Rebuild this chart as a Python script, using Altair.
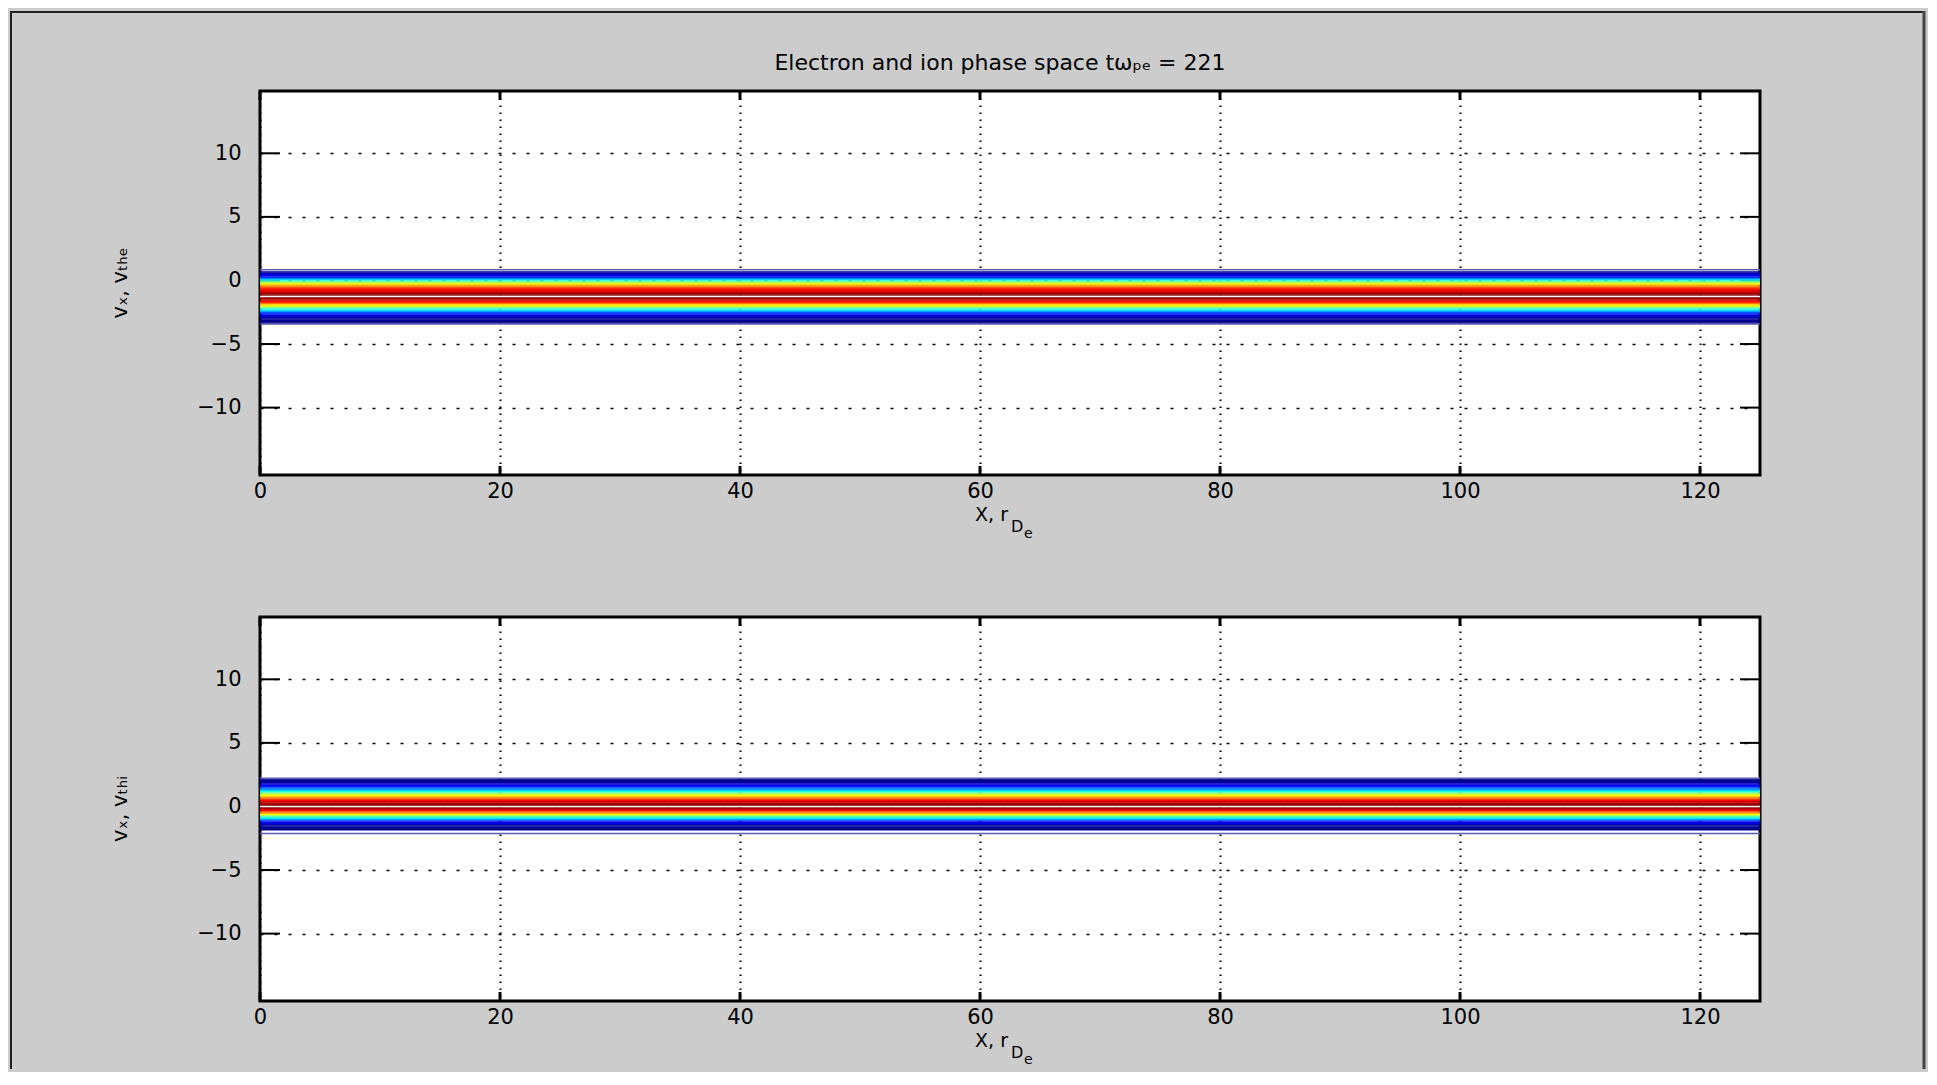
import altair as alt
import pandas as pd

# ---------------- data ----------------
X_RANGE = [0, 125]
V_RANGE = [-15.3, 14.9]
X_TICKS = [0, 20, 40, 60, 80, 100, 120]
V_TICKS = [-10, -5, 0, 5, 10]
ROW_DV = 0.1

# electron distribution rows (velocity row centres, normalised f)
e_v = [0.65, 0.55, 0.45, 0.35, 0.25, 0.15, 0.05, -0.05, -0.15, -0.25,
       -0.35, -0.45, -0.55, -0.65, -0.75, -0.85, -0.95, -1.05, -1.15, -1.25,
       -1.35, -1.45, -1.55, -1.65, -1.75, -1.85, -1.95, -2.05, -2.15, -2.25,
       -2.35, -2.45, -2.55, -2.65, -2.75, -2.85, -2.95, -3.05, -3.15, -3.25,
       -3.35]
e_f = [0.02, 0.05, 0.08, 0.11, 0.16, 0.24, 0.33, 0.42, 0.51, 0.60,
       0.67, 0.73, 0.78, 0.83, 0.87, 0.91, 0.94, 0.97, 0.99, 1.00,
       0.99, 0.97, 0.94, 0.89, 0.83, 0.76, 0.66, 0.58, 0.50, 0.43,
       0.36, 0.28, 0.21, 0.15, 0.10, 0.07, 0.05, 0.03, 0.02, 0.01,
       0.00]
e_contour_v = [0.84, -3.43]
e_peak_v = [-1.26]

# ion distribution rows
i_v = [2.15, 2.05, 1.95, 1.85, 1.75, 1.65, 1.55, 1.45, 1.35, 1.25,
       1.15, 1.05, 0.95, 0.85, 0.75, 0.65, 0.55, 0.45, 0.35, 0.25,
       0.15, 0.05, -0.05, -0.15, -0.25, -0.35, -0.45, -0.55, -0.65, -0.75,
       -0.85, -0.95, -1.05, -1.15, -1.25, -1.35, -1.45, -1.55, -1.65, -1.75,
       -1.85]
i_f = [0.00, 0.01, 0.02, 0.04, 0.06, 0.10, 0.15, 0.20, 0.26, 0.33,
       0.41, 0.48, 0.55, 0.62, 0.69, 0.75, 0.81, 0.87, 0.92, 0.95,
       0.98, 1.00, 1.00, 0.97, 0.93, 0.87, 0.80, 0.72, 0.63, 0.54,
       0.44, 0.35, 0.27, 0.19, 0.12, 0.08, 0.05, 0.03, 0.02, 0.01,
       0.00]
i_contour_v = [2.22, -2.12]
i_peak_v = [0.0]

TITLE = "Electron and ion phase space tωₚₑ = 221"
E_YLABEL = "vₓ, vₜₕₑ"
I_YLABEL = "vₓ, vₜₕᵢ"
XLABEL_MAIN, XLABEL_SUB, XLABEL_SUBSUB = "X, r", "D", "e"

JET_STOPS = [0, 0.125, 0.375, 0.625, 0.875, 1]
JET_COLORS = ["#000080", "#0000ff", "#00ffff", "#ffff00", "#ff0000", "#800000"]

# ---------------- styling / layout ----------------
W, H = 1500, 384
FONT = "DejaVu Sans"
GAP = 142

xs = alt.Scale(domain=X_RANGE, nice=False, zero=False)
ys = alt.Scale(domain=V_RANGE, nice=False, zero=False)

X_AXIS = alt.Axis(
    values=X_TICKS, title=None, grid=True, ticks=False, domain=False,
    labelFontSize=21, labelPadding=5, labelFlush=False, labelOverlap=False,
    labelAngle=0, gridDash=[1.5, 5.5], gridWidth=2, gridColor="black")
Y_AXIS = alt.Axis(
    values=V_TICKS, title=None, grid=True, ticks=False, domain=False,
    labelFontSize=21, labelPadding=19, labelFlush=False, labelOverlap=False,
    gridDash=[3, 11], gridWidth=1.5, gridColor="black")


def text_layer(txt, x, y, size, align="left", angle=0, baseline="alphabetic"):
    return alt.Chart(pd.DataFrame({"t": [txt]})).mark_text(
        font=FONT, fontSize=size, align=align, baseline=baseline,
        angle=angle, color="black"
    ).encode(text="t:N", x=alt.value(x), y=alt.value(y))


def rule_px(**enc):
    color = enc.pop("color")
    sw = enc.pop("sw")
    return alt.Chart(pd.DataFrame({"a": [0]})).mark_rule(
        color=color, strokeWidth=sw
    ).encode(**{k: alt.value(v) for k, v in enc.items()})


def panel(v, f, contours, peak, ylabel, upper):
    band = pd.DataFrame({
        "x0": X_RANGE[0],
        "x1": X_RANGE[1],
        "v_top": [a + ROW_DV / 2 + 0.02 for a in v],
        "v_bot": [a - ROW_DV / 2 for a in v],
        "f": f,
    })
    xt = pd.DataFrame({"x": X_TICKS})
    vt = pd.DataFrame({"v": V_TICKS})

    ticks_top = alt.Chart(xt).mark_rule(color="black", strokeWidth=3).encode(
        x=alt.X("x:Q", scale=xs, axis=X_AXIS), y=alt.value(0), y2=alt.value(9))
    ticks_bot = alt.Chart(xt).mark_rule(color="black", strokeWidth=3).encode(
        x=alt.X("x:Q", scale=xs, axis=X_AXIS), y=alt.value(H - 9), y2=alt.value(H))
    ticks_left = alt.Chart(vt).mark_rule(color="black", strokeWidth=2).encode(
        y=alt.Y("v:Q", scale=ys, axis=Y_AXIS), x=alt.value(0), x2=alt.value(20))
    ticks_right = alt.Chart(vt).mark_rule(color="black", strokeWidth=2).encode(
        y=alt.Y("v:Q", scale=ys, axis=Y_AXIS), x=alt.value(W - 20), x2=alt.value(W))

    rect = alt.Chart(band).mark_rect(strokeWidth=0).encode(
        x=alt.X("x0:Q", scale=xs, axis=X_AXIS),
        x2="x1:Q",
        y=alt.Y("v_top:Q", scale=ys, axis=Y_AXIS),
        y2="v_bot:Q",
        color=alt.Color("f:Q", scale=alt.Scale(domain=JET_STOPS, range=JET_COLORS,
                                               interpolate="rgb"), legend=None),
    )

    cont = alt.Chart(pd.DataFrame({"v": contours})).mark_rule(
        color="#5a5ab4", strokeWidth=1.5).encode(y=alt.Y("v:Q", scale=ys, axis=Y_AXIS))
    pk = alt.Chart(pd.DataFrame({"v": peak})).mark_rule(
        color="#f4f4f4", strokeWidth=1.5).encode(y=alt.Y("v:Q", scale=ys, axis=Y_AXIS))

    layers = [ticks_top, ticks_bot, ticks_left, ticks_right, rect, cont, pk,
              text_layer(ylabel, -139, H / 2, 21, align="center", angle=270,
                         baseline="middle"),
              text_layer(XLABEL_MAIN, 748, H + 46, 19, align="right"),
              text_layer(XLABEL_SUB, 751, H + 57, 16, align="left"),
              text_layer(XLABEL_SUBSUB, 764, H + 63, 14, align="left")]

    if upper:
        layers.append(text_layer(TITLE, 740, -21, 22, align="center"))
        layers += [
            rule_px(color="#222222", sw=2, x=-249, x2=1665, y=-79),
            rule_px(color="#222222", sw=2, x=-249, y=-80, y2=H + GAP),
            rule_px(color="#444444", sw=3, x=1664, y=-80, y2=H + GAP),
        ]
    else:
        layers += [
            rule_px(color="#222222", sw=2, x=-249, y=0, y2=452),
            rule_px(color="#444444", sw=3, x=1664, y=0, y2=452),
        ]

    return alt.layer(*layers).properties(width=W, height=H)


upper = panel(e_v, e_f, e_contour_v, e_peak_v, E_YLABEL, True)
lower = panel(i_v, i_f, i_contour_v, i_peak_v, I_YLABEL, False)

chart = alt.vconcat(upper, lower, spacing=GAP, bounds="flush").properties(
    padding=0, background="#cccccc"
).configure_view(
    fill="white", stroke="black", strokeWidth=3
).configure_axis(
    labelFont=FONT, labelColor="black", gridOpacity=1
)

chart.save("out.html", embed_options={"renderer": "svg", "actions": False})
